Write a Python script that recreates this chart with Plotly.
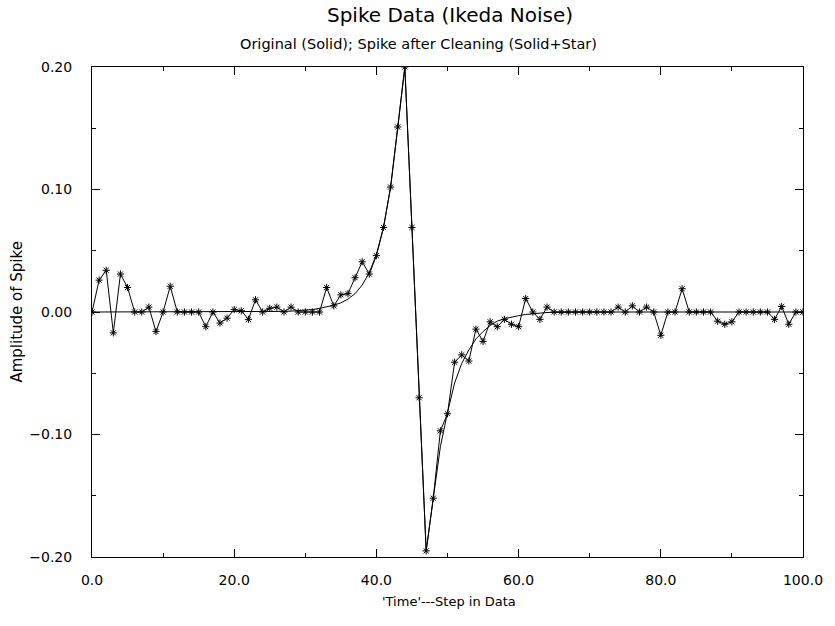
import plotly.graph_objects as go

steps = list(range(0, 101))

original = (
    [0.0] * 25 +
    [0.0002, 0.0003, 0.0005, 0.0007, 0.001, 0.0015, 0.002, 0.003, 0.004, 0.0055,
     0.0075, 0.0105, 0.015, 0.022, 0.032, 0.047, 0.069, 0.102, 0.150, 0.200,
     0.069, -0.070, -0.195, -0.152, -0.110, -0.082, -0.058, -0.042, -0.031, -0.022,
     -0.016, -0.011, -0.0075, -0.0055, -0.004, -0.003, -0.002, -0.0013, -0.0008, -0.0004,
     -0.0002] +
    [0.0] * 35
)

cleaned = [
    0.0, 0.026, 0.034, -0.017, 0.031, 0.020, 0.0, 0.0, 0.004, -0.016,
    0.0, 0.021, 0.0, 0.0, 0.0, 0.0, -0.012, 0.0, -0.009, -0.005,
    0.002, 0.001, -0.006, 0.010, 0.0, 0.003, 0.004, 0.0, 0.004, 0.0,
    0.0, 0.0, 0.0, 0.020, 0.005, 0.014, 0.015, 0.028, 0.041, 0.031,
    0.046, 0.069, 0.102, 0.151, 0.200, 0.069, -0.070, -0.195, -0.152, -0.097,
    -0.083, -0.041, -0.035, -0.040, -0.014, -0.024, -0.008, -0.012, -0.006, -0.010,
    -0.012, 0.011, 0.0, -0.006, 0.004, 0.0, 0.0, 0.0, 0.0, 0.0,
    0.0, 0.0, 0.0, 0.0, 0.004, 0.0, 0.005, 0.0, 0.004, 0.0,
    -0.019, 0.0, 0.0, 0.019, 0.0, 0.0, 0.0, 0.0, -0.0075, -0.010,
    -0.008, 0.0, 0.0, 0.0, 0.0, 0.0, -0.006, 0.0045, -0.010, 0.0,
    0.0,
]

x_ticks = [0, 20, 40, 60, 80, 100]
y_ticks = [-0.2, -0.1, 0.0, 0.1, 0.2]

FONT = "DejaVu Sans"

fig = go.Figure()
fig.add_trace(go.Scatter(
    x=steps, y=original, mode="lines", name="Original",
    line=dict(color="black", width=1), showlegend=False,
))
fig.add_trace(go.Scatter(
    x=steps, y=cleaned, mode="lines+markers", name="Spike after Cleaning",
    line=dict(color="black", width=1),
    marker=dict(symbol="asterisk-open", size=6, color="black",
                line=dict(color="black", width=1)),
    showlegend=False,
))

fig.update_layout(
    width=835, height=626,
    margin=dict(l=92, r=27, t=67, b=69),
    paper_bgcolor="white", plot_bgcolor="white",
    font=dict(family=FONT, color="black", size=13),
    title=dict(text="Spike Data (Ikeda Noise)", x=450 / 835, xanchor="center",
               y=1 - 15 / 626, yanchor="middle",
               font=dict(family=FONT, size=20, color="black")),
    annotations=[
        dict(text="Original (Solid); Spike after Cleaning (Solid+Star)",
             xref="paper", yref="paper", x=(421 - 92) / 716, y=1 + 23 / 490,
             xanchor="center", yanchor="middle", showarrow=False,
             font=dict(family=FONT, size=14.5, color="black")),
        dict(text="Amplitude of Spike", textangle=-90,
             xref="paper", yref="paper", x=-(92 - 16) / 716, y=0.5,
             xanchor="center", yanchor="middle", showarrow=False,
             font=dict(family=FONT, size=15, color="black")),
        dict(text="'Time'---Step in Data",
             xref="paper", yref="paper", x=(452 - 92) / 716, y=-(601 - 557) / 490,
             xanchor="center", yanchor="middle", showarrow=False,
             font=dict(family=FONT, size=13, color="black")),
    ],
)

fig.update_xaxes(
    range=[0, 100], tickvals=x_ticks, tickformat=".1f",
    ticks="inside", ticklen=8, tickcolor="black", tickwidth=1,
    minor=dict(dtick=10, ticks="inside", ticklen=4, tickcolor="black"),
    showline=True, linecolor="black", linewidth=1, mirror="ticks",
    showgrid=False, zeroline=False, ticklabelstandoff=10,
    tickfont=dict(family=FONT, size=14),
)
fig.update_yaxes(
    range=[-0.2, 0.2], tickvals=y_ticks, tickformat=".2f",
    ticks="inside", ticklen=8, tickcolor="black", tickwidth=1,
    minor=dict(dtick=0.05, ticks="inside", ticklen=4, tickcolor="black"),
    showline=True, linecolor="black", linewidth=1, mirror="ticks",
    showgrid=False, zeroline=False, ticklabelstandoff=16,
    tickfont=dict(family=FONT, size=14),
)

fig.write_html("out.html")
